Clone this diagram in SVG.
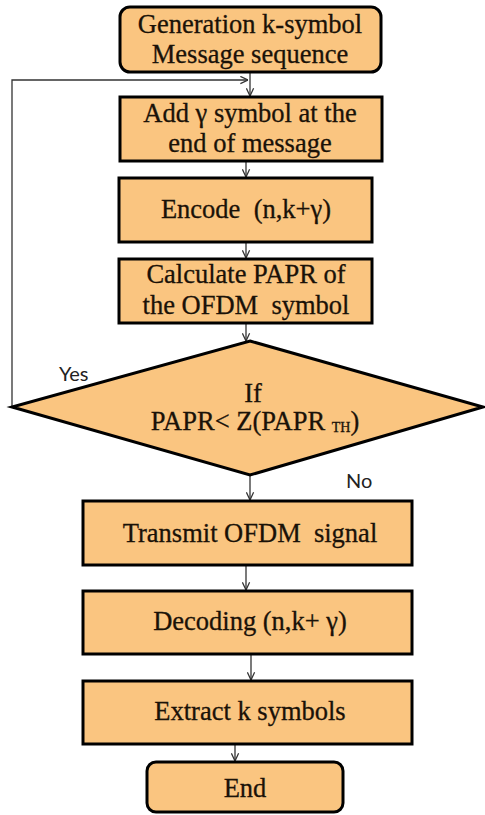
<svg xmlns="http://www.w3.org/2000/svg" width="485" height="815" viewBox="0 0 485 815">
  <style>
    .box { fill: #FAC580; stroke: #000; stroke-width: 3; }
    .lbl { font-family: 'Liberation Serif', 'DejaVu Serif', serif; font-size: 26.5px; fill: #1a1208; stroke: #1a1208; stroke-width: 0.3; text-anchor: middle; white-space: pre; }
    .tag { font-family: Lato, 'Open Sans', 'Liberation Sans', sans-serif; font-size: 20px; fill: #222; }
    .link { fill: none; stroke: #333; stroke-width: 1.3; }
  </style>
  <defs>
    <marker id="arrow" viewBox="0 0 10 10" refX="9.5" refY="5" markerWidth="9" markerHeight="9" markerUnits="userSpaceOnUse" orient="auto">
      <path d="M1,1 L9.5,5 L1,9" fill="none" stroke="#333" stroke-width="1.4"/>
    </marker>
  </defs>
  <rect width="485" height="815" fill="#fff"/>

  <g id="connectors">
    <line class="link" x1="250" y1="72" x2="250" y2="96" marker-end="url(#arrow)"/>
    <polyline class="link" points="12,407 12,80 248,80" marker-end="url(#arrow)"/>
    <line class="link" x1="246" y1="161" x2="246" y2="177" marker-end="url(#arrow)"/>
    <line class="link" x1="246" y1="242" x2="246" y2="258" marker-end="url(#arrow)"/>
    <line class="link" x1="246" y1="323" x2="246" y2="341" marker-end="url(#arrow)"/>
    <line class="link" x1="250" y1="475" x2="250" y2="500" marker-end="url(#arrow)"/>
    <line class="link" x1="246" y1="565" x2="246" y2="590" marker-end="url(#arrow)"/>
    <line class="link" x1="251" y1="654" x2="251" y2="680" marker-end="url(#arrow)"/>
    <line class="link" x1="235" y1="744" x2="235" y2="761" marker-end="url(#arrow)"/>
    <text class="tag" x="59" y="381">Yes</text>
    <text class="tag" x="346" y="488">No</text>
  </g>

  <g id="start">
    <rect class="box" x="120" y="7" width="261" height="65" rx="10"/>
    <text class="lbl" x="250" y="33">Generation k-symbol</text>
    <text class="lbl" x="250" y="63">Message sequence</text>
  </g>

  <g id="add-symbol">
    <rect class="box" x="120" y="97" width="262" height="64"/>
    <text class="lbl" x="250" y="122">Add γ symbol at the</text>
    <text class="lbl" x="250" y="152">end of message</text>
  </g>

  <g id="encode">
    <rect class="box" x="119" y="178" width="253" height="64"/>
    <text class="lbl" x="246" y="218" xml:space="preserve">Encode  (n,k+γ)</text>
  </g>

  <g id="papr">
    <rect class="box" x="119" y="259" width="253" height="64"/>
    <text class="lbl" x="246" y="283">Calculate PAPR of</text>
    <text class="lbl" x="246" y="314" xml:space="preserve">the OFDM  symbol</text>
  </g>

  <g id="decision">
    <polygon class="box" points="250,341 483,407 250,475 12,407"/>
    <text class="lbl" x="253" y="402">If</text>
    <text class="lbl" x="255" y="430">PAPR&lt; Z(PAPR <tspan font-size="14" dy="2">TH</tspan><tspan dy="-2">)</tspan></text>
  </g>

  <g id="transmit">
    <rect class="box" x="83" y="501" width="329" height="64"/>
    <text class="lbl" x="250" y="542" xml:space="preserve">Transmit OFDM  signal</text>
  </g>

  <g id="decode">
    <rect class="box" x="83" y="591" width="329" height="63"/>
    <text class="lbl" x="250" y="630">Decoding (n,k+ γ)</text>
  </g>

  <g id="extract">
    <rect class="box" x="83" y="681" width="329" height="63"/>
    <text class="lbl" x="250" y="720">Extract k symbols</text>
  </g>

  <g id="end">
    <rect class="box" x="147" y="762" width="196" height="50" rx="9"/>
    <text class="lbl" x="245" y="797">End</text>
  </g>
</svg>
